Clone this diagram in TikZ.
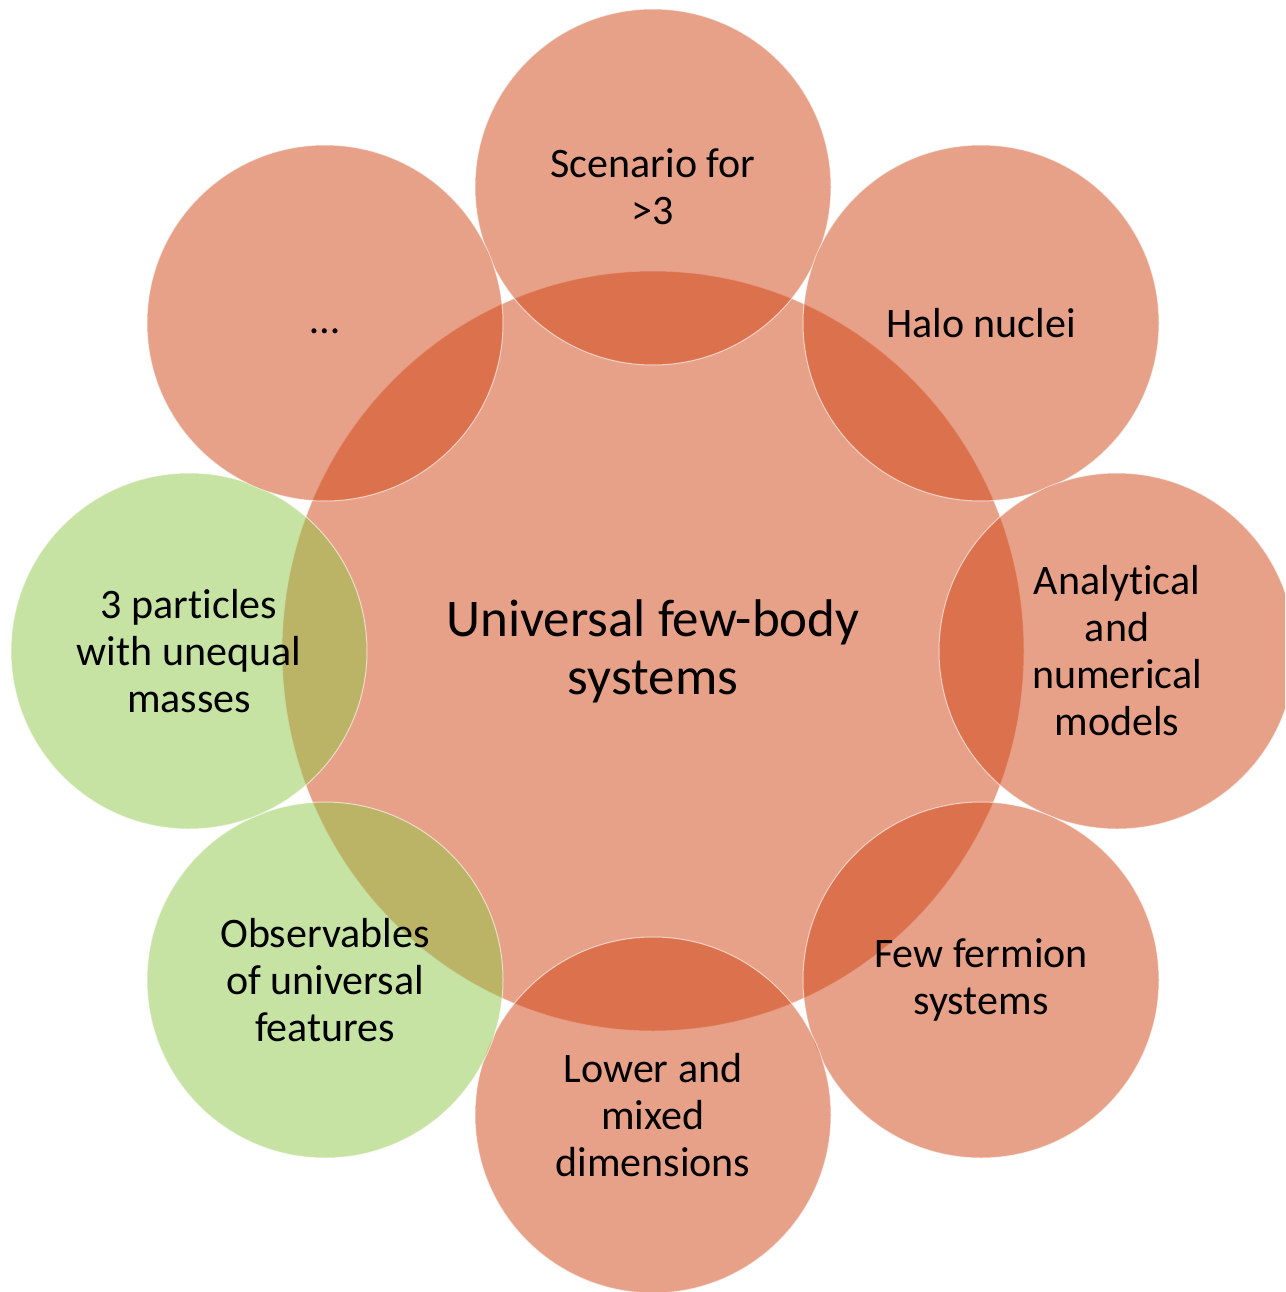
\documentclass[tikz,border=0pt]{standalone}
\usepackage{fontspec}
\setmainfont{Carlito}[Ligatures=NoCommon]
\usetikzlibrary{shapes.geometric}
\definecolor{redbub}{RGB}{209,67,19}
\definecolor{greenbub}{RGB}{143,199,71}
\tikzset{
  bubtext/.style={align=center, text=black, font=\fontsize{42}{47}\selectfont},
  outerbub/.style={circle, minimum size=356pt, inner sep=0pt, fill opacity=0.5, text opacity=1,
    draw=white, draw opacity=0.6, line width=1pt, bubtext},
  redbubble/.style={outerbub, fill=redbub},
  greenbubble/.style={outerbub, fill=greenbub},
  centerbub/.style={ellipse, minimum width=742pt, minimum height=760pt, inner sep=0pt,
    fill=redbub, fill opacity=0.5, text opacity=1, draw=white, draw opacity=0.6, line width=1pt,
    align=center, text=black, font=\fontsize{53}{58}\selectfont}
}
\begin{document}
\begin{tikzpicture}[x=1pt,y=-1pt]
\useasboundingbox (0,0) rectangle (1285,1292);
\clip (0,0) rectangle (1285,1292);
\node[centerbub] (hub) at (653,651) {Universal few-body\\systems};
\node[redbubble] (top) at (653,187) {Scenario for\\>3};
\node[redbubble] (tr) at (981,323) {Halo nuclei};
\node[redbubble] (right) at (1117,651) {Analytical\\and\\numerical\\models};
\node[redbubble] (br) at (981,980) {Few fermion\\systems};
\node[redbubble] (bottom) at (653,1115) {Lower and\\mixed\\dimensions};
\node[greenbubble] (bl) at (325,980) {Observables\\of universal\\features};
\node[greenbubble] (left) at (189,651) {3 particles\\with unequal\\masses};
\node[redbubble] (tl) at (325,323) {…\vphantom{Ay}};
\end{tikzpicture}
\end{document}
